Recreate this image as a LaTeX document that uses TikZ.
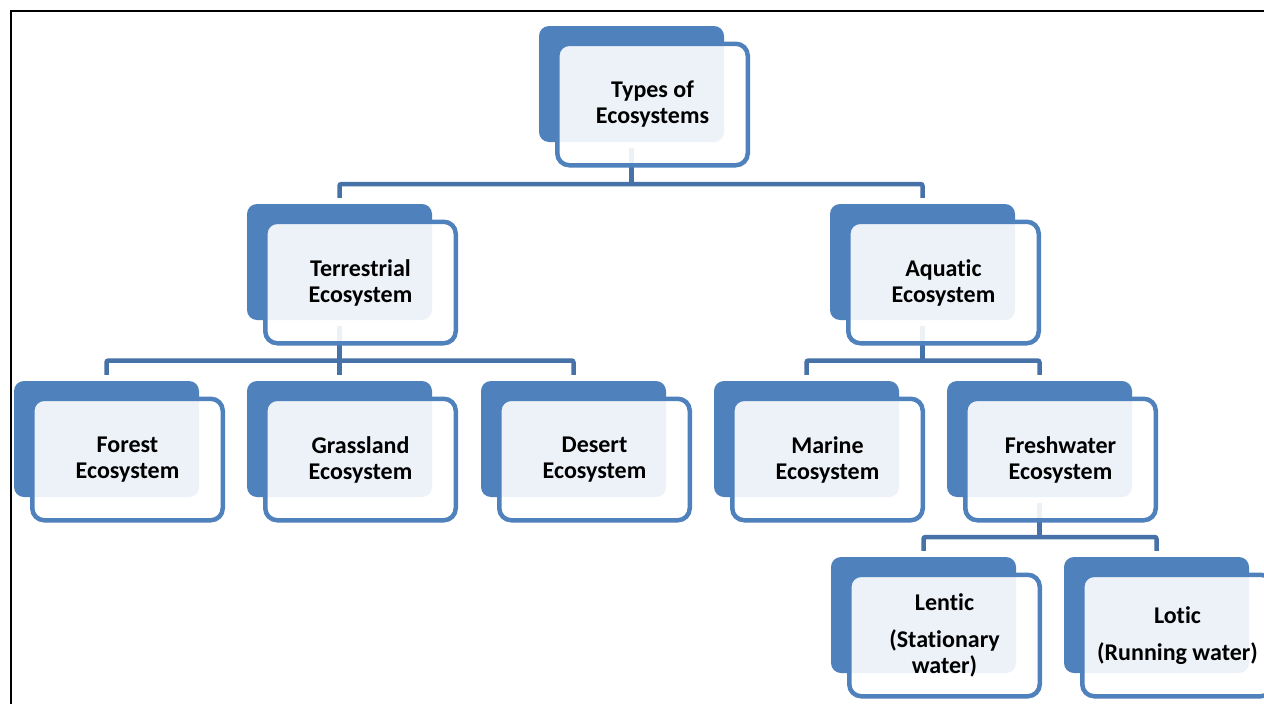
\documentclass[tikz,border=0pt]{standalone}
\usepackage{fontspec}
\setmainfont{Carlito}[Ligatures={NoCommon,NoContextual}]
\definecolor{boxblue}{HTML}{4F81BD}
\definecolor{linkblue}{HTML}{4672A8}
\begin{document}
\begin{tikzpicture}[x=1pt,y=-1pt,
  backbox/.style={fill=boxblue, draw=none, rounded corners=10pt, minimum width=185pt, minimum height=116pt, inner sep=0pt},
  frontbox/.style={draw=boxblue, line width=4.5pt, fill=white, fill opacity=0.9, text opacity=1, rounded corners=12pt, minimum width=190.5pt, minimum height=121.5pt, inner sep=0pt, align=center, text=black, font=\fontsize{24}{26}\selectfont\bfseries},
  conn/.style={draw=linkblue, line width=4.5pt, rounded corners=2pt},
  frameline/.style={draw=black, line width=2pt}]
\useasboundingbox (0,0) rectangle (1264,704);
\clip (0,0) rectangle (1264,704);
\fill[white] (0,0) rectangle (1264,704);
\draw[frameline] (11,705) -- (11,11) -- (1265,11);

% back boxes
\node[backbox] (topb)  at (631.5,84) {};
\node[backbox] (terrb) at (339.5,262) {};
\node[backbox] (aquab) at (922.5,262) {};
\node[backbox] (forb)  at (106.5,439) {};
\node[backbox] (grasb) at (339.5,439) {};
\node[backbox] (desb)  at (573.5,439) {};
\node[backbox] (marb)  at (806.5,439) {};
\node[backbox] (freb)  at (1039.5,439) {};
\node[backbox] (lenb)  at (923.5,615) {};
\node[backbox] (lotb)  at (1156.5,615) {};

% connectors
\coordinate (bus1) at (0,184);
\coordinate (bus2) at (0,360.5);
\coordinate (bus3) at (0,537);
\draw[conn] ([yshift=-6pt]topb.south) -- (topb.south |- bus1);
\draw[conn] ([yshift=6pt]terrb.north) -- (terrb.north |- bus1) -- (aquab.north |- bus1) -- ([yshift=6pt]aquab.north);
\draw[conn] ([yshift=-6pt]terrb.south) -- ([yshift=6pt]grasb.north);
\draw[conn] ([yshift=6pt]forb.north) -- (forb.north |- bus2) -- (desb.north |- bus2) -- ([yshift=6pt]desb.north);
\draw[conn] ([yshift=-6pt]aquab.south) -- (aquab.south |- bus2);
\draw[conn] ([yshift=6pt]marb.north) -- (marb.north |- bus2) -- (freb.north |- bus2) -- ([yshift=6pt]freb.north);
\draw[conn] ([yshift=-6pt]freb.south) -- (freb.south |- bus3);
\draw[conn] ([yshift=6pt]lenb.north) -- (lenb.north |- bus3) -- (lotb.north |- bus3) -- ([yshift=6pt]lotb.north);

% front boxes
\node[frontbox] (top)  at ([xshift=21pt,yshift=-20.5pt]topb.center)  {Types of\\Ecosystems};
\node[frontbox] (terr) at ([xshift=21pt,yshift=-20.5pt]terrb.center) {Terrestrial\\Ecosystem};
\node[frontbox] (aqua) at ([xshift=21pt,yshift=-20.5pt]aquab.center) {Aquatic\\Ecosystem};
\node[frontbox] (for)  at ([xshift=21pt,yshift=-20.5pt]forb.center)  {Forest\\Ecosystem};
\node[frontbox] (gras) at ([xshift=21pt,yshift=-20.5pt]grasb.center) {Grassland\\Ecosystem};
\node[frontbox] (des)  at ([xshift=21pt,yshift=-20.5pt]desb.center)  {Desert\\Ecosystem};
\node[frontbox] (mar)  at ([xshift=21pt,yshift=-20.5pt]marb.center)  {Marine\\Ecosystem};
\node[frontbox] (fre)  at ([xshift=21pt,yshift=-20.5pt]freb.center)  {Freshwater\\Ecosystem};
\node[frontbox] (len)  at ([xshift=21pt,yshift=-20.5pt]lenb.center)  {Lentic\\[10.5pt](Stationary\\water)};
\node[frontbox] (lot)  at ([xshift=21pt,yshift=-20.5pt]lotb.center)  {Lotic\\[11pt](Running water)};
\end{tikzpicture}
\end{document}
